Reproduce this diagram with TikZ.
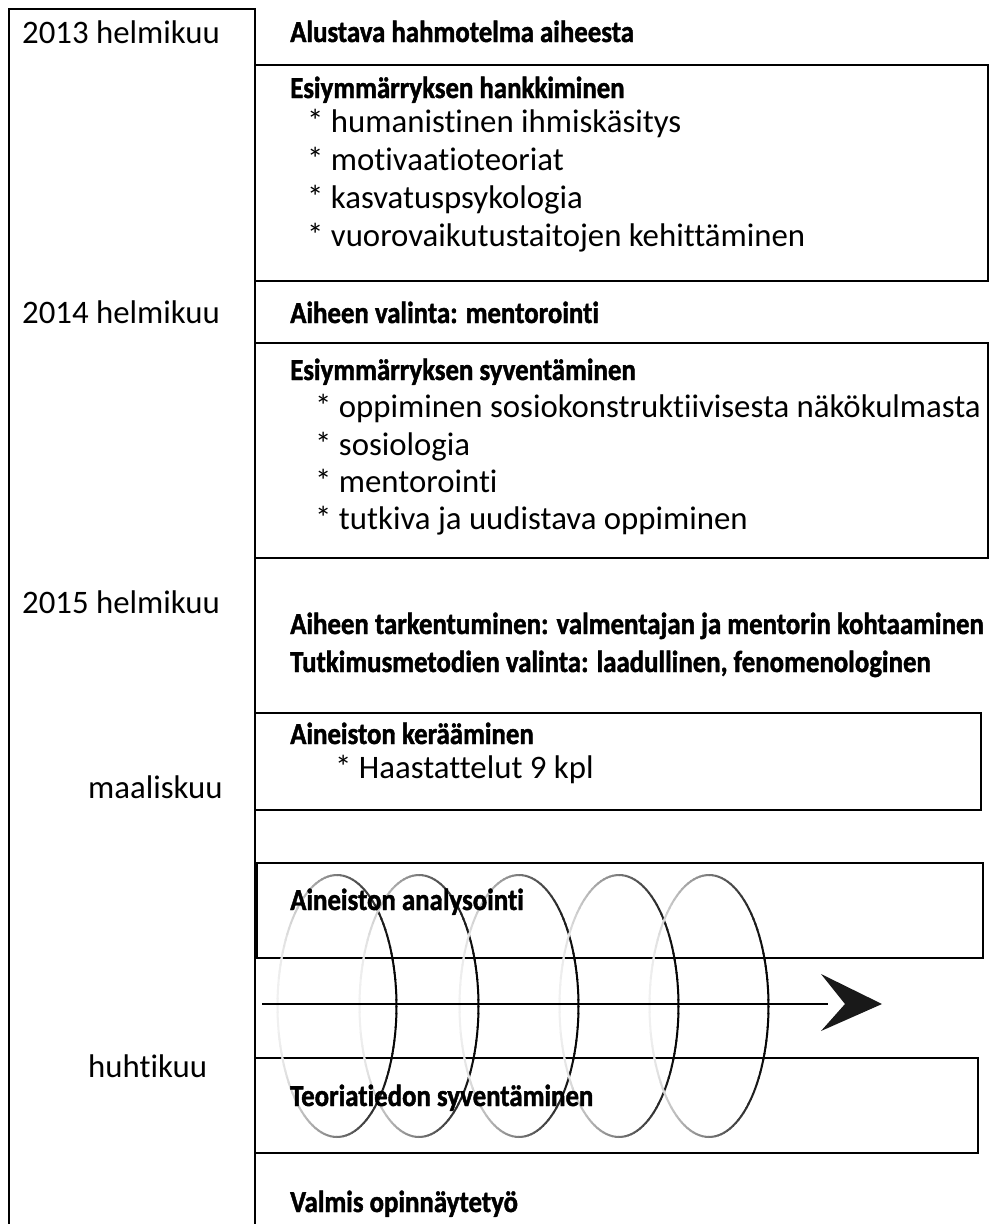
\documentclass[tikz,border=0pt]{standalone}
\usepackage{fontspec}
\setmainfont[Ligatures=NoCommon]{Carlito}
\newfontfamily\condfont[FakeStretch=0.88,FakeBold=1.4,Ligatures=NoCommon]{Carlito Bold}
\tikzset{
  reg/.style={anchor=base west,inner sep=0pt,font=\fontsize{32.8}{33}\selectfont},
  hdr/.style={anchor=base west,inner sep=0pt,font=\condfont\fontsize{30.5}{30}\selectfont},
  frame/.style={line width=2pt,line cap=rect},
}
\begin{document}
\begin{tikzpicture}[x=1pt,y=-1pt]
\useasboundingbox[fill=white] (0,0) rectangle (991,1224);
% left column
\draw[frame] (9,1226) -- (9,9) -- (255,9) -- (255,1226);
% boxes
\draw[frame] (255,65) rectangle (988,281);
\draw[frame] (255,343) rectangle (988,558);
\draw[frame] (255,713) rectangle (981,810);
\draw[frame] (256,863) rectangle (983,958);
\draw[line width=4pt] (256,863) -- (256,958);
\draw[frame] (255,1058) rectangle (978,1153);
% spiral rings with graded stroke
\foreach \cx in {337,419,519,619,709}{
  \foreach \a in {0,3,...,357}{
    \pgfmathsetmacro\d{int(6+94*(1+cos(\a+1.5))/2)}
    \draw[line width=2pt,black!\d] (\cx,1006) ++(\a:59.5 and 131)
      arc[start angle=\a,end angle=\a+3.6,x radius=59.5,y radius=131];
  }
}
% arrow
\coordinate (arrS) at (262,1004);
\coordinate (arrE) at (828,1004);
\draw[line width=2pt] (arrS) -- (arrE);
\fill[black!90] (882,1004) -- (821,974) -- (845,1004) -- (821,1031) -- cycle;
% date labels
\node[reg] (d1) at (22,43) {2013 helmikuu};
\node[reg] (d2) at (22,323) {2014 helmikuu};
\node[reg] (d3) at (22,613) {2015 helmikuu};
\node[reg] (d4) at (88,798) {maaliskuu};
\node[reg] (d5) at (88,1077) {huhtikuu};
% phase texts
\node[hdr] (t1) at (290,42) {Alustava hahmotelma aiheesta};
\node[hdr] (t2) at (290,98) {Esiymmärryksen hankkiminen};
\node[reg] (t2a) at (307,132) {* humanistinen ihmiskäsitys};
\node[reg] (t2b) at (307,170) {* motivaatioteoriat};
\node[reg] (t2c) at (307,208) {* kasvatuspsykologia};
\node[reg] (t2d) at (307,246) {* vuorovaikutustaitojen kehittäminen};
\node[hdr] (t3) at (290,323) {Aiheen valinta: mentorointi};
\node[hdr] (t4) at (290,380) {Esiymmärryksen syventäminen};
\node[reg] (t4a) at (315,417) {* oppiminen sosiokonstruktiivisesta näkökulmasta};
\node[reg] (t4b) at (315,455) {* sosiologia};
\node[reg] (t4c) at (315,492) {* mentorointi};
\node[reg] (t4d) at (315,529) {* tutkiva ja uudistava oppiminen};
\node[hdr] (t5) at (290,634) {Aiheen tarkentuminen: valmentajan ja mentorin kohtaaminen};
\node[hdr] (t6) at (290,672) {Tutkimusmetodien valinta: laadullinen, fenomenologinen};
\node[hdr] (t7) at (290,744) {Aineiston kerääminen};
\node[reg] (t7a) at (335,778) {* Haastattelut 9 kpl};
\node[hdr] (t8) at (290,910) {Aineiston analysointi};
\node[hdr] (t9) at (290,1106) {Teoriatiedon syventäminen};
\node[hdr] (t10) at (290,1212) {Valmis opinnäytetyö};
\end{tikzpicture}
\end{document}
